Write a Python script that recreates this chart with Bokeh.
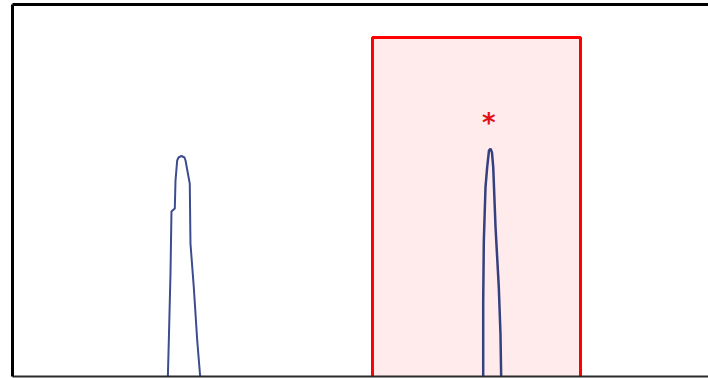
from bokeh.plotting import figure
from bokeh.models import LinearAxis, Range1d, FixedTicker
from bokeh.core.properties import value
from bokeh.embed import file_html
from bokeh.resources import INLINE

# Chromatogram traces (retention time in min, signal in mAU)
peak1_time = [2.231, 2.246, 2.270, 2.284, 2.332, 2.342, 2.366, 2.385, 2.428,
              2.471, 2.486, 2.547, 2.557, 2.605, 2.654, 2.701]
peak1_signal = [18.7, 32.0, 54.3, 75.0, 76.0, 85.3, 92.0, 93.0, 93.5,
                93.0, 92.0, 84.3, 64.3, 49.7, 32.0, 18.7]

peak2_time = [6.763, 6.763, 6.772, 6.796, 6.820, 6.846, 6.868, 6.889, 6.907,
              6.940, 6.987, 7.011, 7.022]
peak2_signal = [18.7, 45.3, 65.3, 83.1, 89.8, 95.3, 95.9, 94.7, 89.8,
                69.8, 49.8, 34.3, 18.7]

# Highlighted window
window_start = 5.172
window_end = 8.161
window_top = 133.0
window_bottom = 0.0

# Significance marker
marker_time = [6.843]
marker_signal = [105.9]
marker_text = ["*"]

p = figure(width=708, height=378,
           x_range=Range1d(0, 10), y_range=Range1d(20, 144),
           output_backend="svg", toolbar_location=None,
           min_border_left=12, min_border_right=0,
           min_border_top=4, min_border_bottom=2)
p.outline_line_color = None
p.grid.visible = False
p.background_fill_color = "white"
p.border_fill_color = "white"

p.add_layout(LinearAxis(), "above")
for ax in p.axis:
    ax.ticker = FixedTicker(ticks=[])
    ax.major_tick_line_color = None
    ax.minor_tick_line_color = None
    ax.major_label_text_font_size = "0px"
    ax.major_label_standoff = 0
    ax.major_tick_out = 0
    ax.major_tick_in = 0
    ax.axis_line_color = "black"
    ax.axis_line_width = 3
p.below[0].axis_line_width = 2
p.below[0].axis_line_color = "#2b2b2b"

p.quad(left=[window_start], right=[window_end], top=[window_top], bottom=[window_bottom],
       fill_color="#ffebeb", line_color="#ff0000", line_width=3)

p.line(peak1_time, peak1_signal, line_color="#3d4c8f", line_width=2)
p.line(peak2_time, peak2_signal, line_color="#34407f", line_width=2.5)

p.text(marker_time, marker_signal, text=marker_text, text_color="#e0101a",
       text_font=value("DejaVu Sans"), text_font_size="26px", text_font_style="bold",
       text_align="center", text_baseline="middle", y_offset=4)

open("out.html", "w").write(file_html(p, INLINE))
